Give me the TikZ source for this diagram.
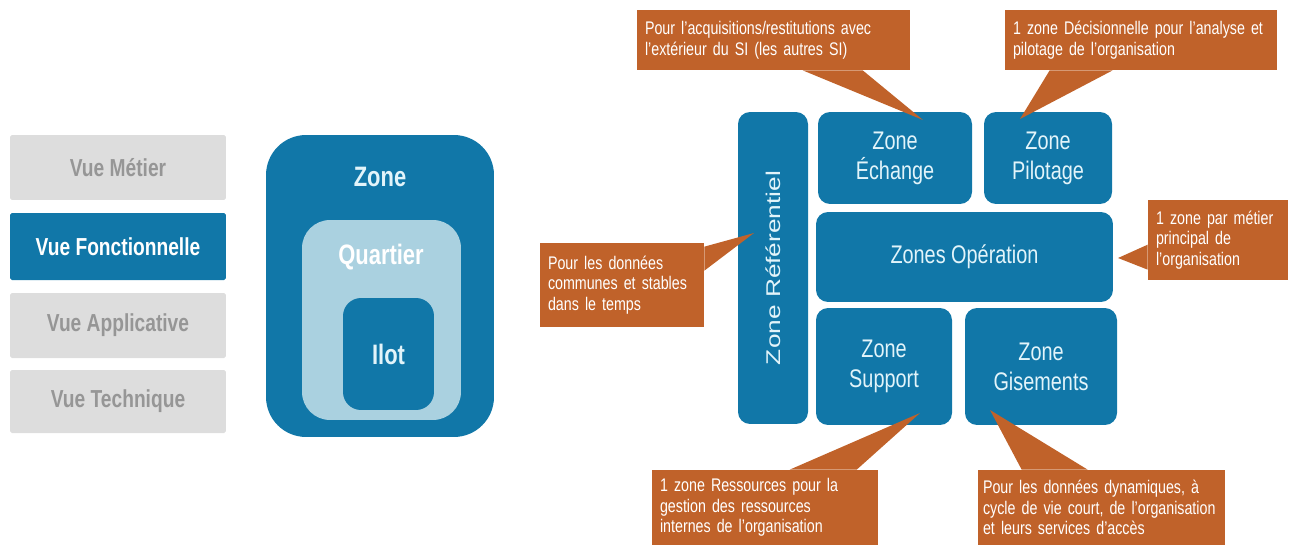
\documentclass[tikz,border=0pt]{standalone}
\usepackage{fontspec}
\setmainfont{Liberation Sans}[FakeStretch=0.78]
\newfontfamily\uprightsans{Liberation Sans}
\usepackage{graphicx}
\usetikzlibrary{calc}

\definecolor{zoneblue}{RGB}{17,119,168}
\definecolor{zonetext}{RGB}{226,244,250}
\definecolor{quartierblue}{RGB}{170,209,224}
\definecolor{vuegray}{RGB}{221,221,221}
\definecolor{vuetext}{RGB}{150,150,150}
\definecolor{noteorange}{RGB}{192,98,42}

\begin{document}
\begin{tikzpicture}[x=0.02cm, y=-0.02cm,
    vuebox/.style={fill=vuegray, text=vuetext, minimum width=4.32cm, minimum height=1.3cm, inner sep=0pt, rounded corners=1pt, font=\fontsize{14}{16}\selectfont\bfseries},
    zonebox/.style={fill=zoneblue, text=zonetext, inner sep=0pt, rounded corners=0.24cm, align=center, font=\fontsize{14.5}{17}\selectfont},
    nestbox/.style={fill=zoneblue, inner sep=0pt},
    nesttitle/.style={text=zonetext, inner sep=0pt, font=\fontsize{16}{18}\selectfont\bfseries},
    notebox/.style={fill=noteorange, text=white, align=left, inner xsep=0.16cm, inner ysep=0pt, font=\fontsize{10.4}{11.8}\selectfont},
    pointer/.style={fill=noteorange}]
    \useasboundingbox (0,0) rectangle (1300,548);

    % les vues
    \node[vuebox] (metier) at (118,167.5) {Vue Métier};
    \node[vuebox, fill=zoneblue, text=white, minimum height=1.34cm] (fonct) at (118,246.5) {Vue Fonctionnelle};
    \node[vuebox] (appli) at (118,325.5) {Vue Applicative};
    \node[vuebox, minimum height=1.26cm] (tech) at (118,401.5) {Vue Technique};

    % zone / quartier / ilot
    \node[nestbox, rounded corners=0.8cm, minimum width=4.56cm, minimum height=6.04cm] (zone) at (380,286) {};
    \node[nestbox, fill=quartierblue, rounded corners=0.56cm, minimum width=3.18cm, minimum height=4cm] (quartier) at (381.5,320) {};
    \node[nestbox, rounded corners=0.36cm, minimum width=1.82cm, minimum height=2.24cm, text=zonetext, font=\fontsize{16}{18}\selectfont\bfseries] (ilot) at (388.5,354) {Ilot};
    \node[nesttitle] (zonetitle) at (380,177) {Zone};
    \node[nesttitle, text=white] (quartiertitle) at (381,257) {Quartier};

    % cartographie des zones
    \node[zonebox, minimum width=1.4cm, minimum height=6.24cm] (ref) at (773,268) {\uprightsans\rotatebox{90}{\scalebox{1.03}[0.78]{Zone Référentiel}}};
    \node[zonebox, minimum width=3.08cm, minimum height=1.84cm] (echange) at (895,158) {Zone\\Échange};
    \node[zonebox, minimum width=2.56cm, minimum height=1.84cm] (pilotage) at (1048,158) {Zone\\Pilotage};
    \node[zonebox, minimum width=5.94cm, minimum height=1.8cm] (operation) at (964.5,257) {Zones Opération};
    \node[zonebox, minimum width=2.72cm, minimum height=2.34cm] (support) at (884,366.5) {Zone\\Support};
    \node[zonebox, minimum width=3.04cm, minimum height=2.34cm] (gisements) at (1041,366.5) {Zone\\Gisements};

    % notes
    \node[notebox, text width=5.14cm, minimum height=1.2cm] (noteechange) at (773.5,40) {Pour l'acquisitions/restitutions avec\\l'extérieur du SI (les autres SI)};
    \node[notebox, text width=5.12cm, minimum height=1.2cm] (notepilotage) at (1141,40) {1 zone Décisionnelle pour l'analyse et\\pilotage de l'organisation};
    \node[notebox, text width=2.96cm, minimum height=1.68cm] (noteref) at (622,285) {Pour les données\\communes et stables\\dans le temps};
    \node[notebox, text width=2.48cm, minimum height=1.6cm] (noteop) at (1218,240) {1 zone par métier\\principal de\\l'organisation};
    \node[notebox, text width=4.2cm, minimum height=1.5cm] (notesupport) at (765,507.5) {1 zone Ressources pour la\\gestion des ressources\\internes de l'organisation};
    \node[notebox, inner xsep=0.1cm, text width=4.74cm, minimum height=1.5cm] (notegis) at (1101.5,507.5) {Pour les données dynamiques, à\\cycle de vie court, de l'organisation\\et leurs services d'accès};

    % pointes
    \coordinate (tipechange) at (923,120);
    \coordinate (tippilotage) at (1020,119);
    \coordinate (tipref) at (754,233);
    \coordinate (tipop) at (1118,258);
    \coordinate (tipsupport) at (920,413);
    \coordinate (tipgis) at (990,410);
    \fill[pointer] ($(noteechange.south west)+(166,0)$) -- (tipechange) -- ($(noteechange.south west)+(226,0)$) -- cycle;
    \fill[pointer] ($(notepilotage.south west)+(45,0)$) -- (tippilotage) -- ($(notepilotage.south west)+(108,0)$) -- cycle;
    \fill[pointer] ($(noteref.north east)+(0,4)$) -- (tipref) -- ($(noteref.north east)+(0,28)$) -- cycle;
    \fill[pointer] ($(noteop.north west)+(0,45)$) -- (tipop) -- ($(noteop.north west)+(0,70)$) -- cycle;
    \fill[pointer] ($(notesupport.north west)+(138,0)$) -- (tipsupport) -- ($(notesupport.north west)+(205,0)$) -- cycle;
    \fill[pointer] ($(notegis.north west)+(44,0)$) -- (tipgis) -- ($(notegis.north west)+(110,0)$) -- cycle;
\end{tikzpicture}
\end{document}
